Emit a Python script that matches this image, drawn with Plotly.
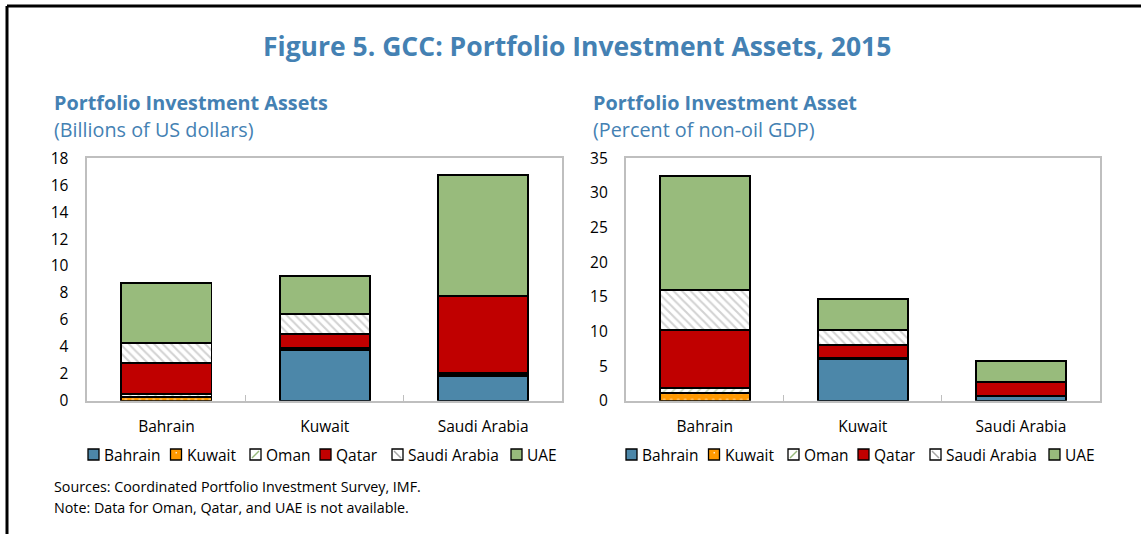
import plotly.graph_objects as go

# categories (reporting country on the x axis)
categories = ["Bahrain", "Kuwait", "Saudi Arabia"]

# holder countries (stack segments)
series_names = ["Bahrain", "Kuwait", "Oman", "Qatar", "Saudi Arabia", "UAE"]

# left chart: billions of US dollars
usd_bahrain = [None, 3.79, 1.81]
usd_kuwait = [0.30, None, 0.13]
usd_oman = [0.17, 0.15, 0.14]
usd_qatar = [2.31, 1.04, 5.72]
usd_saudi = [1.48, 1.46, None]
usd_uae = [4.46, 2.82, 8.98]

# right chart: percent of non-oil GDP
pct_bahrain = [None, 5.97, 0.60]
pct_kuwait = [1.06, None, 0.04]
pct_oman = [0.82, 0.15, 0.04]
pct_qatar = [8.28, 1.92, 2.07]
pct_saudi = [5.78, 2.16, None]
pct_uae = [16.50, 4.53, 3.03]

left_values = [usd_bahrain, usd_kuwait, usd_oman, usd_qatar, usd_saudi, usd_uae]
right_values = [pct_bahrain, pct_kuwait, pct_oman, pct_qatar, pct_saudi, pct_uae]

y_ticks_left = [0, 2, 4, 6, 8, 10, 12, 14, 16, 18]
y_ticks_right = [0, 5, 10, 15, 20, 25, 30, 35]

W, H = 1141, 534
FONT = "Open Sans"
BLUE = "#4481B3"

colors = {"Bahrain": "#4C87A9", "Kuwait": "#FF9900", "Oman": "white",
          "Qatar": "#C00000", "Saudi Arabia": "white", "UAE": "#98BB7C"}
patterns = {
    "Kuwait": dict(shape=".", fgcolor="#FFE6BF", size=7, solidity=0.15),
    "Oman": dict(shape="/", fgcolor="#98BB7C", size=6, solidity=0.3),
    "Saudi Arabia": dict(shape="\\", fgcolor="#A6A6A6", size=6, solidity=0.35),
}


def px_x(p):
    return p / W


def px_y(p):
    return 1 - p / H


fig = go.Figure()

for name, vals in zip(series_names, left_values):
    fig.add_trace(go.Bar(x=categories, y=vals, name=name, xaxis="x", yaxis="y",
                         marker=dict(color=colors[name], pattern=patterns.get(name, {}),
                                     line=dict(color="black", width=1.8))))
for name, vals in zip(series_names, right_values):
    fig.add_trace(go.Bar(x=categories, y=vals, name=name, xaxis="x2", yaxis="y2",
                         marker=dict(color=colors[name], pattern=patterns.get(name, {}),
                                     line=dict(color="black", width=1.8))))

y_dom = [px_y(400.7), px_y(158.3)]
axis_common = dict(showline=True, mirror=True, linecolor="#BFBFBF", linewidth=1.5,
                   showgrid=False, zeroline=False, automargin=False,
                   tickfont=dict(family=FONT, size=15.5, color="black"))

fig.update_layout(
    width=W, height=H,
    margin=dict(l=0, r=0, t=0, b=0),
    paper_bgcolor="white", plot_bgcolor="white",
    barmode="stack", bargap=0.43,
    showlegend=False,
    font=dict(family=FONT, color="black"),
    xaxis=dict(domain=[px_x(87.3), px_x(562.3)], anchor="y", ticks="inside", tickson="boundaries",
               ticklen=6, tickcolor="#BFBFBF", ticklabelstandoff=11, **axis_common),
    yaxis=dict(domain=y_dom, anchor="x", range=[0, 18], tickvals=y_ticks_left, ticks="",
               ticklabelstandoff=14, **axis_common),
    xaxis2=dict(domain=[px_x(625.7), px_x(1100)], anchor="y2", ticks="inside", tickson="boundaries",
                ticklen=6, tickcolor="#BFBFBF", ticklabelstandoff=11, **axis_common),
    yaxis2=dict(domain=y_dom, anchor="x2", range=[0, 35], tickvals=y_ticks_right, ticks="",
                ticklabelstandoff=13, **axis_common),
)

annotations = [
    ("<b>Figure 5. GCC: Portfolio Investment Assets, 2015</b>", 577, 46, 26.5, BLUE, "center"),
    ("<b>Portfolio Investment Assets</b>", 52, 102, 19.8, BLUE, "left"),
    ("(Billions of US dollars)", 52, 129, 19.8, BLUE, "left"),
    ("<b>Portfolio Investment Asset</b>", 591, 102, 19.8, BLUE, "left"),
    ("(Percent of non-oil GDP)", 591, 129, 19.8, BLUE, "left"),
    ("Sources: Coordinated Portfolio Investment Survey, IMF.", 52, 486, 14.3, "black", "left"),
    ("Note: Data for Oman, Qatar, and UAE is not available.", 52, 507, 14.3, "black", "left"),
]
for text, x, y, size, color, anchor in annotations:
    fig.add_annotation(text=text, xref="paper", yref="paper", x=px_x(x), y=px_y(y),
                       xanchor=anchor, yanchor="middle", showarrow=False,
                       font=dict(family=FONT, size=size, color=color))

# legends drawn by hand so the swatch/text spacing matches the original
legend_offsets = [0, 82.5, 162, 232, 304, 423]
legend_y = 454.5
for base in (88, 626):
    for name, off in zip(series_names, legend_offsets):
        x0 = base + off
        fig.add_shape(type="rect", xref="paper", yref="paper",
                      x0=px_x(x0), x1=px_x(x0 + 11), y0=px_y(legend_y - 5.5), y1=px_y(legend_y + 5.5),
                      fillcolor=colors[name], line=dict(color="black", width=1.3))
        if name == "Oman":
            fig.add_shape(type="line", xref="paper", yref="paper",
                          x0=px_x(x0 + 2), x1=px_x(x0 + 9), y0=px_y(legend_y + 3.5), y1=px_y(legend_y - 3.5),
                          line=dict(color="#98BB7C", width=1.5))
        elif name == "Saudi Arabia":
            fig.add_shape(type="line", xref="paper", yref="paper",
                          x0=px_x(x0 + 2), x1=px_x(x0 + 9), y0=px_y(legend_y - 3.5), y1=px_y(legend_y + 3.5),
                          line=dict(color="#A6A6A6", width=1.5))
        elif name == "Kuwait":
            fig.add_shape(type="rect", xref="paper", yref="paper",
                          x0=px_x(x0 + 5), x1=px_x(x0 + 6.5), y0=px_y(legend_y - 1), y1=px_y(legend_y - 2.5),
                          fillcolor="#FFE6BF", line=dict(width=0))
        fig.add_annotation(text=name, xref="paper", yref="paper", x=px_x(x0 + 14), y=px_y(legend_y),
                           xanchor="left", yanchor="middle", showarrow=False,
                           font=dict(family=FONT, size=15.5, color="black"))

# page frame (left and top edges)
fig.add_shape(type="line", xref="paper", yref="paper", x0=px_x(7), x1=px_x(7), y0=0, y1=px_y(6),
              line=dict(color="black", width=3))
fig.add_shape(type="line", xref="paper", yref="paper", x0=px_x(7), x1=1, y0=px_y(6), y1=px_y(6),
              line=dict(color="black", width=3))

fig.write_html("out.html", config={"displayModeBar": False},
               post_script="document.body.style.margin='0';")
